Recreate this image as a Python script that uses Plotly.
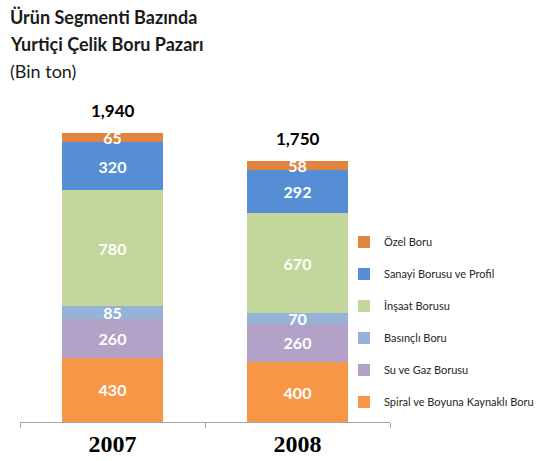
import plotly.graph_objects as go

years = ["2007", "2008"]
segments = [
    "Spiral ve Boyuna Kaynaklı Boru",
    "Su ve Gaz Borusu",
    "Basınçlı Boru",
    "İnşaat Borusu",
    "Sanayi Borusu ve Profil",
    "Özel Boru",
]
spiral = [430, 400]
su_gaz = [260, 260]
basincli = [85, 70]
insaat = [780, 670]
sanayi = [320, 292]
ozel = [65, 58]
totals = [1940, 1750]
total_labels = ["1,940", "1,750"]

series = [spiral, su_gaz, basincli, insaat, sanayi, ozel]
colors = ["#F79646", "#B3A2C7", "#95B3D7", "#C3D69B", "#558ED5", "#E0843F"]

fig = go.Figure()
n = len(segments)
for i, (name, vals, col) in enumerate(zip(segments, series, colors)):
    fig.add_trace(go.Bar(
        x=years, y=vals, name=name, legendgroup=name, legendrank=n - i,
        marker=dict(color=col, line=dict(width=0)),
        text=[str(v) for v in vals], textposition="inside",
        insidetextanchor="middle", textangle=0,
        textfont=dict(family="Lato", size=16, color="white", weight="bold"),
        hoverinfo="skip",
    ))

annotations = [
    dict(text=lbl, x=idx, y=tot, xref="x", yref="y", yanchor="middle",
         yshift=22, showarrow=False,
         font=dict(family="Lato", size=17, color="black", weight="bold"))
    for idx, (tot, lbl) in enumerate(zip(totals, total_labels))
]

# plot area: x from 20px to 390px of a 525px-wide paper (l=20, r=0)
W_PLOT = 525.0
title_lines = [
    ("<b>Ürün Segmenti Bazında</b>", 1.119),
    ("<b>Yurtiçi Çelik Boru Pazarı</b>", 1.044),
    ("(Bin ton)", 0.970),
]
annotations += [
    dict(text=t, x=-12 / W_PLOT, y=y, xref="paper", yref="paper",
         xanchor="left", yanchor="middle", showarrow=False,
         font=dict(family="Lato", size=18, color="#1a1a1a"))
    for t, y in title_lines
]

fig.update_layout(
    width=545, height=461,
    margin=dict(l=20, r=0, t=60, b=39),
    paper_bgcolor="white", plot_bgcolor="white",
    barmode="stack", bargap=0.454,
    uniformtext=dict(minsize=15, mode="show"),
    annotations=annotations,
    showlegend=True,
    legend=dict(
        x=(344 - 20) / W_PLOT, y=0.276, xanchor="left", yanchor="middle",
        traceorder="grouped", tracegroupgap=13,
        font=dict(family="Lato", size=11, color="#262626"),
        itemwidth=30, bgcolor="rgba(0,0,0,0)",
    ),
    xaxis=dict(
        type="category", domain=[0, 370 / W_PLOT],
        showline=True, linecolor="#A6A6A6", linewidth=1,
        ticks="outside", tickson="boundaries", ticklen=5, tickcolor="#A6A6A6",
        tickfont=dict(family="Liberation Serif", size=24, color="black", weight="bold"),
        showgrid=False, zeroline=False, automargin=False,
    ),
    yaxis=dict(range=[0, 2426], visible=False, showgrid=False, zeroline=False),
)

fig.write_html("out.html", config={"displayModeBar": False},
               post_script="document.body.style.margin='0';")
